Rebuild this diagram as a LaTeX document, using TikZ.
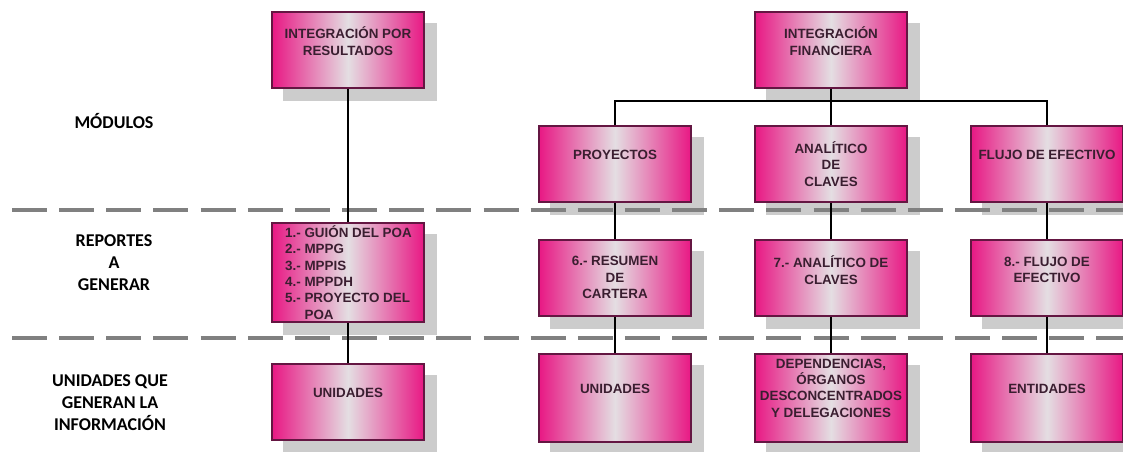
\documentclass[tikz,border=0pt]{standalone}
\usepackage{fontspec}
\setmainfont{Liberation Sans}
\newfontfamily\labfont{Carlito}
\definecolor{boxpink}{RGB}{232,24,132}
\definecolor{boxmid}{RGB}{228,222,226}
\definecolor{boxedge}{RGB}{100,22,66}
\definecolor{boxtext}{RGB}{58,30,48}
\definecolor{shgray}{RGB}{204,204,204}
\definecolor{dashgray}{RGB}{128,128,128}
\pgfdeclarelayer{background}
\pgfsetlayers{background,main}
\newcommand\pinkbox[6]{% name, cx, cy, height, text cy, text
  \node[pbox, minimum height=#4pt] (#1) at (#2,#3) {};
  \begin{pgfonlayer}{background}
    \fill[shgray] ([shift={(12,12)}]#1.north west) rectangle ([shift={(12,12)}]#1.south east);
  \end{pgfonlayer}
  \node[ptext] (#1t) at (#2,#5) {#6};
}
\begin{document}
\begin{tikzpicture}[x=1pt,y=-1pt,
  pbox/.style={draw=boxedge, line width=1.6pt, left color=boxpink, right color=boxpink, middle color=boxmid, minimum width=152pt, inner sep=0pt},
  ptext/.style={align=center, inner sep=0pt, text=boxtext, font=\bfseries\fontsize{13.4}{16.3}\selectfont},
  side/.style={align=center, inner sep=0pt, text=black, font=\labfont\bfseries\fontsize{18}{22}\selectfont},
  conn/.style={draw=black, line width=2.2pt},
  sep/.style={draw=dashgray, line width=4pt, dash pattern=on 35pt off 12.15pt}]
\useasboundingbox (0,0) rectangle (1123,451);

% separators
\coordinate (s1a) at (12,210); \coordinate (s1b) at (1123,210);
\coordinate (s2a) at (12,338); \coordinate (s2b) at (1123,338);
\draw[sep] (s1a) -- (s1b);
\draw[sep] (s2a) -- (s2b);

% side labels
\node[side] (lm) at (114,121) {MÓDULOS};
\node[side] (lr) at (114,263) {REPORTES\\A\\GENERAR};
\node[side] (lu) at (110,403) {UNIDADES QUE\\GENERAN LA\\INFORMACIÓN};

% boxes
\pinkbox{ir}{348}{50}{76}{41}{INTEGRACIÓN POR\\RESULTADOS}
\pinkbox{if}{831}{50}{76}{41}{INTEGRACIÓN\\FINANCIERA}
\pinkbox{pr}{615}{164}{76}{155}{PROYECTOS}
\pinkbox{an}{831}{164}{76}{164}{ANALÍTICO\\DE\\CLAVES}
\pinkbox{fl}{1047}{164}{76}{155}{FLUJO DE EFECTIVO}
\pinkbox{r6}{615}{278}{76}{277.5}{6.- RESUMEN\\DE\\CARTERA}
\pinkbox{r7}{831}{278}{76}{270}{7.- ANALÍTICO DE\\CLAVES}
\pinkbox{r8}{1047}{278}{76}{270}{8.- FLUJO DE\\EFECTIVO}
\pinkbox{u1}{348}{402}{76}{393}{UNIDADES}
\pinkbox{u6}{615}{398}{88}{389}{UNIDADES}
\pinkbox{u7}{831}{398}{88}{388}{DEPENDENCIAS,\\ÓRGANOS\\DESCONCENTRADOS\\Y DELEGACIONES}
\pinkbox{u8}{1047}{398}{88}{389}{ENTIDADES}

% left report box (left aligned list)
\node[pbox, minimum height=99pt] (r1) at (348,272.5) {};
\begin{pgfonlayer}{background}
  \fill[shgray] ([shift={(12,12)}]r1.north west) rectangle ([shift={(12,12)}]r1.south east);
\end{pgfonlayer}
\node[ptext, align=left, anchor=west] (r1t) at (285,272.5) {1.- GUIÓN DEL POA\\2.- MPPG\\3.- MPPIS\\4.- MPPDH\\5.- PROYECTO DEL\\\hphantom{5.-}\ POA};

% connectors
\coordinate (hj) at (831,101);
\draw[conn] (ir.south) -- (r1.north);
\draw[conn] (r1.south) -- (u1.north);
\draw[conn] (if.south) -- (hj);
\draw[conn] (pr.north) |- (hj) -| (fl.north);
\draw[conn] (hj) -- (an.north);
\draw[conn] (pr.south) -- (r6.north);
\draw[conn] (an.south) -- (r7.north);
\draw[conn] (fl.south) -- (r8.north);
\draw[conn] (r6.south) -- (u6.north);
\draw[conn] (r7.south) -- (u7.north);
\draw[conn] (r8.south) -- (u8.north);
\end{tikzpicture}
\end{document}
